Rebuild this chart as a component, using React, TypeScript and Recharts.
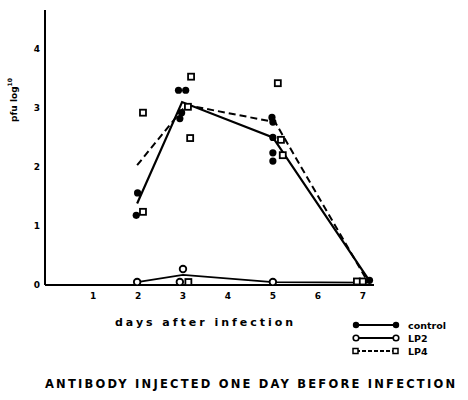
import React from 'react';
import { ComposedChart, Scatter, XAxis, YAxis } from 'recharts';

const xTicks = [1, 2, 3, 4, 5, 6, 7];
const yTicks = [0, 1, 2, 3, 4];

const controlPoints = [
  { x: 1.99, y: 1.56 }, { x: 1.96, y: 1.18 },
  { x: 2.9, y: 3.3 }, { x: 3.06, y: 3.3 }, { x: 2.93, y: 2.82 }, { x: 2.97, y: 2.92 },
  { x: 4.98, y: 2.84 }, { x: 5.0, y: 2.76 }, { x: 5.0, y: 2.5 }, { x: 5.0, y: 2.24 }, { x: 5.0, y: 2.1 },
  { x: 7.15, y: 0.08 },
];
const controlMean = [
  { x: 1.98, y: 1.38 }, { x: 2.98, y: 3.1 }, { x: 5.0, y: 2.5 }, { x: 7.15, y: 0.07 },
];

const lp2Points = [
  { x: 1.98, y: 0.05 }, { x: 3.0, y: 0.27 }, { x: 2.93, y: 0.05 }, { x: 5.0, y: 0.05 },
];
const lp2Mean = [
  { x: 1.98, y: 0.05 }, { x: 3.0, y: 0.17 }, { x: 5.0, y: 0.05 }, { x: 7.1, y: 0.04 },
];

const lp4Points = [
  { x: 2.11, y: 2.92 }, { x: 2.11, y: 1.24 },
  { x: 3.18, y: 3.53 }, { x: 3.16, y: 2.49 }, { x: 3.11, y: 3.02 }, { x: 3.12, y: 0.05 },
  { x: 5.11, y: 3.42 }, { x: 5.18, y: 2.46 }, { x: 5.22, y: 2.2 },
  { x: 6.87, y: 0.06 }, { x: 7.0, y: 0.06 },
];
const lp4Mean = [
  { x: 1.98, y: 2.03 }, { x: 3.07, y: 3.05 }, { x: 5.05, y: 2.76 }, { x: 7.1, y: 0.07 },
];

const FONT = '"DejaVu Sans", Arial, sans-serif';

const FilledDot = (p: any) => <circle cx={p.cx} cy={p.cy} r={3.6} fill="#000" />;
const OpenDot = (p: any) => (
  <circle cx={p.cx} cy={p.cy} r={3.3} fill="#fff" stroke="#000" strokeWidth={1.8} />
);
const SquareDot = (p: any) => (
  <rect x={p.cx - 3} y={p.cy - 3} width={6} height={6} fill="#fff" stroke="#000" strokeWidth={1.8} />
);
const NoDot = () => <g />;

const tickStyle = { fontSize: 9, fontWeight: 'bold', fill: '#000', fontFamily: FONT };

export default function App() {
  return (
    <div style={{ position: 'absolute', left: 0, top: 0, width: 468, height: 400, background: '#fff' }}>
      <ComposedChart
        width={468}
        height={400}
        margin={{ top: 10, right: 94, bottom: 85, left: 0 }}
      >
        <XAxis
          dataKey="x"
          type="number"
          domain={[-0.07, 7.25]}
          ticks={xTicks}
          allowDataOverflow
          height={30}
          tickLine={false}
          tickSize={0}
          tickMargin={8}
          axisLine={{ stroke: '#000', strokeWidth: 2 }}
          tick={tickStyle}
        />
        <YAxis
          dataKey="y"
          type="number"
          domain={[0, 4.66]}
          ticks={yTicks}
          allowDataOverflow
          width={45}
          tickLine={false}
          tickSize={0}
          tickMargin={5}
          axisLine={{ stroke: '#000', strokeWidth: 2 }}
          tick={tickStyle}
        />
        <Scatter data={lp2Mean} line={{ stroke: '#000', strokeWidth: 1.8 }} shape={NoDot} isAnimationActive={false} />
        <Scatter data={lp4Mean} line={{ stroke: '#000', strokeWidth: 2, strokeDasharray: '7 4' }} shape={NoDot} isAnimationActive={false} />
        <Scatter data={controlMean} line={{ stroke: '#000', strokeWidth: 2.2 }} shape={NoDot} isAnimationActive={false} />
        <Scatter data={lp2Points} shape={OpenDot} isAnimationActive={false} />
        <Scatter data={lp4Points} shape={SquareDot} isAnimationActive={false} />
        <Scatter data={controlPoints} shape={FilledDot} isAnimationActive={false} />
      </ComposedChart>
      <svg
        width={468}
        height={400}
        style={{ position: 'absolute', left: 0, top: 0, pointerEvents: 'none' }}
        fontFamily={FONT}
        fontWeight="bold"
      >
        <text x={14} y={100} fontSize={9} textAnchor="middle" transform="rotate(-90 14 100)" dominantBaseline="middle">
          pfu log<tspan fontSize={6} dy={-4}>10</tspan>
        </text>
        <text x={115} y={326} fontSize={11} textLength={178} lengthAdjust="spacing">days after infection</text>
        {/* legend */}
        <line x1={356} y1={325} x2={396} y2={325} stroke="#000" strokeWidth={1.8} />
        <circle cx={356} cy={325} r={3.2} fill="#000" />
        <circle cx={396} cy={325} r={3.2} fill="#000" />
        <text x={408} y={328.5} fontSize={9.5}>control</text>
        <line x1={356} y1={338} x2={396} y2={338} stroke="#000" strokeWidth={1.8} />
        <circle cx={356} cy={338} r={2.8} fill="#fff" stroke="#000" strokeWidth={1.6} />
        <circle cx={396} cy={338} r={2.8} fill="#fff" stroke="#000" strokeWidth={1.6} />
        <text x={408} y={341.5} fontSize={9.5}>LP2</text>
        <line x1={356} y1={351} x2={396} y2={351} stroke="#000" strokeWidth={1.8} strokeDasharray="4 2" />
        <rect x={353} y={348.5} width={5} height={5} fill="#fff" stroke="#000" strokeWidth={1.5} />
        <rect x={393} y={348.5} width={5} height={5} fill="#fff" stroke="#000" strokeWidth={1.5} />
        <text x={408} y={354.5} fontSize={9.5}>LP4</text>
        <text x={45} y={388} fontSize={11.5} textLength={410} lengthAdjust="spacing">
          ANTIBODY INJECTED ONE DAY BEFORE INFECTION
        </text>
      </svg>
    </div>
  );
}
